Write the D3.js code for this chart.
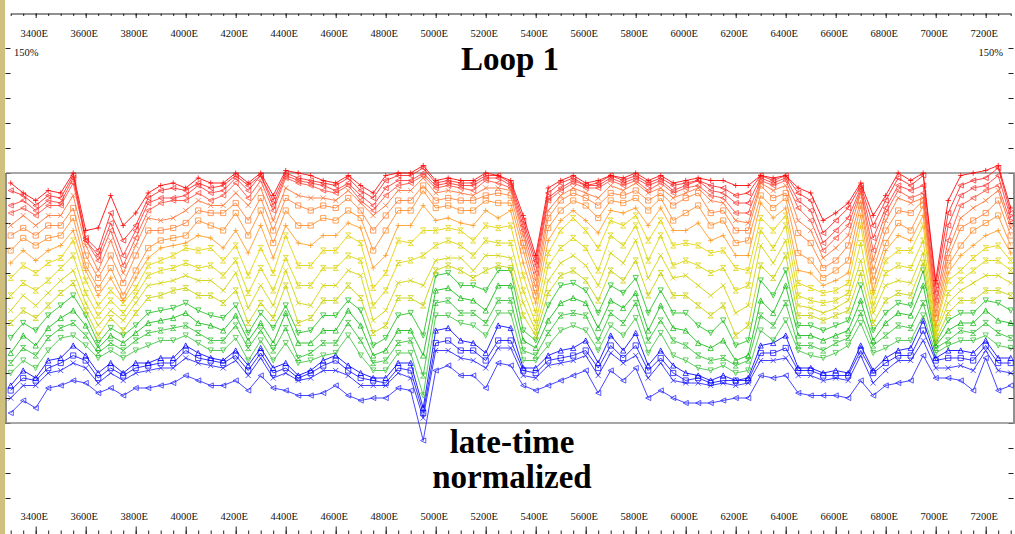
<!DOCTYPE html>
<html>
<head>
<meta charset="utf-8">
<script src="https://cdn.jsdelivr.net/npm/d3@7"></script>
<style>
body { margin: 0; background: #fff; }
svg { display: block; }
</style>
</head>
<body>
<div id="plot"></div>
<script>

// stations along the line (E)
var stations = [3300,3350,3400,3450,3500,3550,3600,3650,3700,3750,3800,3850,3900,3950,4000,4050,4100,4150,4200,4250,
  4300,4350,4400,4450,4500,4550,4600,4650,4700,4750,4800,4850,4900,4950,5000,5050,5100,5150,5200,5250,
  5300,5350,5400,5450,5500,5550,5600,5650,5700,5750,5800,5850,5900,5950,6000,6050,6100,6150,6200,6250,
  6300,6350,6400,6450,6500,6550,6600,6650,6700,6750,6800,6850,6900,6950,7000,7050,7100,7150,7200,7250,7300];

// late-time normalized response (%), one array per time gate, earliest first
var gate01 = [96,92,89,93,92,100,77,78,91,79,84,92,95,96,94,98,96,96,100,96,100,91,101,100,99,97,96,99,95,92,99,100,100,103,97,98,97,97,100,99,97,83,67,94,97,99,96,97,99,98,100,97,99,96,97,98,97,97,95,95,99,98,99,94,92,81,84,88,96,83,91,100,97,100,57,89,99,100,101,103,86];
var gate02 = [93,91,87,91,90,99,74,69,84,73,79,90,93,94,93,96,94,95,99,95,99,89,100,98,97,96,95,98,93,90,97,99,99,102,96,97,96,96,99,99,96,81,65,92,96,98,95,96,99,97,99,96,98,95,96,97,95,94,91,92,99,97,99,92,89,76,81,86,95,79,89,98,95,99,55,84,95,97,98,102,84];
var gate03 = [87,89,85,89,88,98,73,67,80,67,77,88,90,90,91,95,92,93,98,93,99,87,99,97,96,95,93,96,91,87,94,97,97,100,95,96,95,95,98,98,95,79,63,90,94,97,95,95,98,96,98,95,97,93,95,97,93,92,88,88,98,96,98,89,85,72,77,82,94,74,86,95,93,95,52,79,91,94,95,99,82];
var gate04 = [84,86,83,87,87,96,73,65,77,63,74,85,88,89,89,92,89,91,96,90,97,85,98,96,95,93,92,95,89,85,91,95,96,99,94,95,94,93,97,96,94,77,60,89,93,96,94,94,97,95,97,93,96,92,94,95,91,90,84,84,97,95,97,86,81,69,74,79,93,69,84,93,90,92,49,73,87,90,93,95,80];
var gate05 = [79,83,79,83,83,91,71,61,73,60,71,82,81,82,85,89,87,87,92,87,94,81,94,91,90,90,89,93,88,83,87,93,93,98,92,93,92,91,94,94,93,75,57,85,91,94,92,90,95,93,96,92,94,90,92,94,89,88,81,80,96,93,95,81,77,66,70,75,92,65,81,90,88,90,47,69,82,86,89,93,78];
var gate06 = [75,78,75,79,79,86,67,58,67,56,67,77,77,78,80,85,84,84,88,81,90,77,90,87,85,87,86,90,85,77,83,89,89,95,89,90,89,89,91,92,91,72,54,82,89,92,90,87,92,91,93,89,92,87,90,92,84,85,77,77,95,90,92,76,72,62,65,71,89,61,77,85,84,89,44,66,78,81,84,89,75];
var gate07 = [69,74,71,74,75,82,63,54,62,51,61,70,73,74,75,81,79,77,84,75,85,72,85,79,79,82,81,85,82,69,77,85,85,93,86,87,85,85,89,88,88,69,51,78,85,89,87,82,89,88,90,85,90,81,84,87,79,81,72,73,91,86,90,68,65,58,61,65,87,57,72,80,77,87,42,63,71,77,80,83,71];
var gate08 = [64,69,65,69,71,77,61,51,58,49,58,66,70,71,72,75,74,70,77,68,79,66,79,72,71,75,75,80,78,62,67,79,79,87,81,82,80,79,85,82,85,64,48,73,81,85,81,76,85,84,86,79,86,77,77,80,73,75,67,67,88,82,86,61,60,55,57,60,83,53,69,75,73,83,39,60,67,71,75,77,68];
var gate09 = [58,63,60,64,66,73,57,47,53,48,54,63,65,67,70,69,70,65,71,59,70,60,75,63,63,69,69,75,72,54,60,73,72,77,77,78,77,73,79,78,79,59,44,68,77,82,77,70,81,79,83,73,81,71,72,71,68,69,62,61,82,77,83,56,54,52,53,56,79,51,65,69,69,79,38,57,61,66,70,71,65];
var gate10 = [51,56,53,57,62,67,52,43,49,44,51,59,61,62,64,62,63,59,65,52,62,53,66,55,55,62,62,67,65,47,53,64,65,67,71,73,71,67,73,72,72,53,40,63,70,74,70,61,75,71,79,65,75,63,65,63,60,62,53,55,77,70,79,51,49,48,49,52,72,47,60,63,62,73,36,52,57,61,65,65,61];
var gate11 = [45,51,47,52,57,61,48,39,45,41,48,55,56,57,59,57,57,53,60,46,55,47,61,48,47,55,55,61,59,41,45,56,57,55,65,66,66,61,67,67,66,48,37,57,64,67,63,55,68,64,73,58,67,58,59,55,51,55,44,47,71,64,73,47,46,44,46,49,65,44,55,57,56,68,35,48,53,56,59,59,56];
var gate12 = [40,45,42,47,52,56,45,35,42,37,44,50,51,53,54,51,51,48,53,40,48,42,55,40,42,49,49,55,50,36,39,50,50,47,61,63,61,58,61,63,62,43,35,52,59,61,57,49,61,57,65,51,60,51,51,47,43,47,35,39,63,58,67,43,43,41,43,45,60,40,49,52,51,64,33,44,49,49,53,53,51];
var gate13 = [34,40,37,43,47,51,43,32,38,35,39,44,45,46,48,45,43,42,47,36,44,38,47,36,37,43,43,49,45,31,34,43,44,35,59,60,55,55,53,61,61,37,33,47,55,56,53,44,55,52,58,44,53,44,44,39,36,41,31,33,57,51,61,39,39,37,39,41,55,37,44,48,47,61,32,41,44,44,49,48,45];
var gate14 = [28,35,31,38,42,45,39,30,35,32,36,40,41,42,44,40,39,37,43,33,40,32,44,32,32,37,37,45,39,27,29,37,37,27,53,54,50,49,45,55,55,33,30,41,48,50,48,38,49,46,52,37,47,38,37,32,30,33,25,27,49,44,55,35,35,33,35,37,49,33,40,44,43,55,31,37,40,40,45,41,40];
var gate15 = [24,30,27,34,38,40,35,28,32,29,33,36,37,38,39,36,33,33,39,30,37,29,38,26,28,32,32,40,33,24,25,32,33,19,48,49,44,44,40,49,49,29,27,36,43,44,43,33,44,40,48,33,41,33,31,27,25,26,23,25,43,39,48,31,31,29,32,34,44,31,35,39,38,48,30,33,37,36,40,36,34];
var gate16 = [20,25,22,29,34,35,31,26,29,26,29,31,33,33,35,32,29,29,34,25,33,25,32,24,25,27,28,35,27,21,21,28,28,11,43,43,40,39,35,44,44,25,25,31,37,39,37,29,39,35,42,28,36,27,25,22,21,23,20,21,37,33,41,29,27,26,28,31,40,28,30,33,33,43,28,31,33,33,35,31,30];
var gate17 = [15,21,18,25,26,31,27,20,24,20,24,24,26,26,31,28,26,25,29,23,30,22,24,19,21,25,27,23,20,18,18,24,24,6,37,38,33,32,28,39,38,22,22,27,29,30,33,24,35,29,36,23,29,23,20,19,17,19,17,18,31,32,35,22,22,20,21,20,31,21,26,29,30,41,26,29,29,28,33,26,26];
var gate18 = [13,18,17,22,24,27,25,18,22,19,22,23,24,24,29,26,25,24,27,21,28,20,22,18,20,23,25,21,18,17,16,22,21,4,32,33,29,29,25,33,33,21,20,25,26,27,29,22,31,26,31,21,26,20,17,18,16,17,17,17,28,28,30,21,21,19,19,19,29,20,24,27,27,37,25,26,26,25,31,24,24];
var gate19 = [10,15,15,20,21,24,22,16,20,17,20,21,22,22,26,24,23,22,25,19,26,18,20,17,18,21,21,19,15,15,15,20,18,2,29,29,26,25,22,30,30,19,18,23,24,25,27,19,28,24,27,18,24,17,16,16,15,16,15,16,25,25,26,19,19,17,18,17,27,16,21,25,25,33,22,22,23,21,29,21,20];
var gate20 = [4,9,6,14,15,17,16,12,14,11,14,14,15,16,19,17,15,15,17,13,19,14,13,11,11,12,15,11,9,10,10,14,13,-7,21,23,19,19,14,24,23,15,13,15,17,19,21,12,21,17,22,10,13,10,8,8,8,9,10,10,19,18,19,12,11,11,11,10,17,11,15,16,17,27,18,18,17,13,26,13,15];

var gates = [gate01,gate02,gate03,gate04,gate05,gate06,gate07,gate08,gate09,gate10,
             gate11,gate12,gate13,gate14,gate15,gate16,gate17,gate18,gate19,gate20];

// axis labels
var labelStations = [3400,3600,3800,4000,4200,4400,4600,4800,5000,5200,5400,5600,5800,6000,6200,6400,6600,6800,7000,7200];
var pctTicks = [-30,-20,-10,0,10,20,30,40,50,60,70,80,90,100,110,120,130,140,150];
var refLines = [0, 100];
var topPctLabel = '150%';
var title = 'Loop 1';
var subtitle = ['late-time', 'normalized'];

// styles
var gateColors = ['#ff0000','#ff2020','#ff3434','#ff4a3a','#ff7030','#ff7e30','#ff8a26','#ff9a20',
                  '#e2d200','#d8d400','#d0d000','#c6cf00','#22c022','#10b810','#30c030','#40c440',
                  '#0000ff','#1010ff','#2020ff','#2626ff'];
var gateMarkers = ['plus','tril','tril','tril','x','square','square','plus',
                   'hour','hour','x','hour','trid','triu','hour','trid',
                   'triu','square','x','tril'];

var width = 1015, height = 534;

var svg = d3.select('#plot').append('svg')
    .attr('width', width)
    .attr('height', height);

var x = d3.scaleLinear().domain([3300, 7300]).range([10.7, 1010.7]);
var y = d3.scaleLinear().domain([0, 100]).range([423, 173]);

// tan strip on the left edge
svg.append('rect')
    .attr('x', 0).attr('y', 0)
    .attr('width', 5).attr('height', height)
    .attr('fill', '#cfc07e');

var axisFont = 'Liberation Serif, Times New Roman, serif';

function styleAxis(g) {
    g.selectAll('path.domain').attr('stroke', '#222');
    g.selectAll('.tick line').attr('stroke', '#222');
    g.selectAll('.tick text')
        .attr('font-family', axisFont)
        .attr('font-size', '10.5px')
        .attr('fill', '#111')
        .attr('dx', '-2');
}

// top station axis
svg.append('g')
    .attr('transform', 'translate(0,13.5)')
    .call(d3.axisBottom(x).tickValues(stations).tickSize(2.5).tickSizeOuter(0).tickFormat(''))
    .call(styleAxis);
svg.append('g')
    .attr('transform', 'translate(0,13.5)')
    .call(d3.axisBottom(x).tickValues(labelStations).tickSize(4.5).tickPadding(12)
        .tickFormat(function(d) { return d + 'E'; }))
    .call(styleAxis)
    .select('path.domain').remove();

// bottom station axis
svg.append('g')
    .attr('transform', 'translate(0,534.5)')
    .call(d3.axisTop(x).tickValues(stations).tickSize(4).tickSizeOuter(0).tickFormat(''))
    .call(styleAxis);
svg.append('g')
    .attr('transform', 'translate(0,534.5)')
    .call(d3.axisTop(x).tickValues(labelStations).tickSize(8).tickPadding(7)
        .tickFormat(function(d) { return d + 'E'; }))
    .call(styleAxis)
    .select('path.domain').remove();

// left and right percent axes
svg.append('g')
    .attr('transform', 'translate(5.5,0)')
    .call(d3.axisRight(y).tickValues(pctTicks).tickSize(5).tickSizeOuter(0).tickFormat(''))
    .call(styleAxis);
svg.append('g')
    .attr('transform', 'translate(1013.5,0)')
    .call(d3.axisLeft(y).tickValues(pctTicks).tickSize(5).tickSizeOuter(0).tickFormat(''))
    .call(styleAxis);

svg.append('text')
    .attr('x', 14).attr('y', y(150) + 8)
    .attr('font-family', axisFont).attr('font-size', '10.5px').attr('fill', '#111')
    .text(topPctLabel);
svg.append('text')
    .attr('x', 1003).attr('y', y(150) + 8)
    .attr('text-anchor', 'end')
    .attr('font-family', axisFont).attr('font-size', '10.5px').attr('fill', '#111')
    .text(topPctLabel);

// reference lines at 0% and 100%
svg.selectAll('.ref')
    .data(refLines)
    .enter().append('line')
    .attr('class', 'ref')
    .attr('x1', 6).attr('x2', width)
    .attr('y1', function(d) { return y(d); })
    .attr('y2', function(d) { return y(d); })
    .attr('stroke', '#8a8a8a')
    .attr('stroke-width', 1.5);

// marker shapes
var ms = 2.6;
var markerPath = {
    plus: 'M' + (-ms) + ',0H' + ms + 'M0,' + (-ms) + 'V' + ms,
    x: 'M' + (-ms) + ',' + (-ms) + 'L' + ms + ',' + ms + 'M' + (-ms) + ',' + ms + 'L' + ms + ',' + (-ms),
    square: 'M' + (-ms) + ',' + (-ms) + 'h' + (2 * ms) + 'v' + (2 * ms) + 'h' + (-2 * ms) + 'Z',
    triu: 'M0,' + (-ms) + 'L' + ms + ',' + ms + 'H' + (-ms) + 'Z',
    trid: 'M0,' + ms + 'L' + ms + ',' + (-ms) + 'H' + (-ms) + 'Z',
    tril: 'M' + (-ms) + ',0L' + ms + ',' + (-ms) + 'V' + ms + 'Z',
    hour: 'M' + (-ms) + ',' + (-ms) + 'H' + ms + 'L' + (-ms) + ',' + ms + 'H' + ms + 'Z'
};

var line = d3.line()
    .x(function(d, i) { return x(stations[i]); })
    .y(function(d) { return y(d); });

// draw latest gate first so the early (red) gates sit on top
var order = d3.range(gates.length).reverse();

var series = svg.selectAll('.gate')
    .data(order)
    .enter().append('g')
    .attr('class', 'gate');

series.append('path')
    .attr('d', function(k) { return line(gates[k]); })
    .attr('fill', 'none')
    .attr('stroke', function(k) { return gateColors[k]; })
    .attr('stroke-width', 1)
    .attr('stroke-opacity', 0.85);

series.each(function(k) {
    d3.select(this).selectAll('path.mk')
        .data(gates[k])
        .enter().append('path')
        .attr('class', 'mk')
        .attr('transform', function(d, i) { return 'translate(' + x(stations[i]) + ',' + y(d) + ')'; })
        .attr('d', markerPath[gateMarkers[k]])
        .attr('fill', 'none')
        .attr('stroke', gateColors[k])
        .attr('stroke-width', 0.9)
        .attr('stroke-opacity', 0.85);
});

// titles
var titleFont = 'Palatino Linotype, Book Antiqua, Palatino, Liberation Serif, serif';
svg.append('text')
    .attr('x', 510).attr('y', 70)
    .attr('text-anchor', 'middle')
    .attr('font-family', titleFont).attr('font-weight', 'bold').attr('font-size', '33px')
    .attr('fill', '#000')
    .text(title);

svg.selectAll('.sub')
    .data(subtitle)
    .enter().append('text')
    .attr('class', 'sub')
    .attr('x', 512)
    .attr('y', function(d, i) { return 453 + i * 35; })
    .attr('text-anchor', 'middle')
    .attr('font-family', titleFont).attr('font-weight', 'bold').attr('font-size', '33px')
    .attr('fill', '#000')
    .text(function(d) { return d; });

</script>
</body>
</html>
